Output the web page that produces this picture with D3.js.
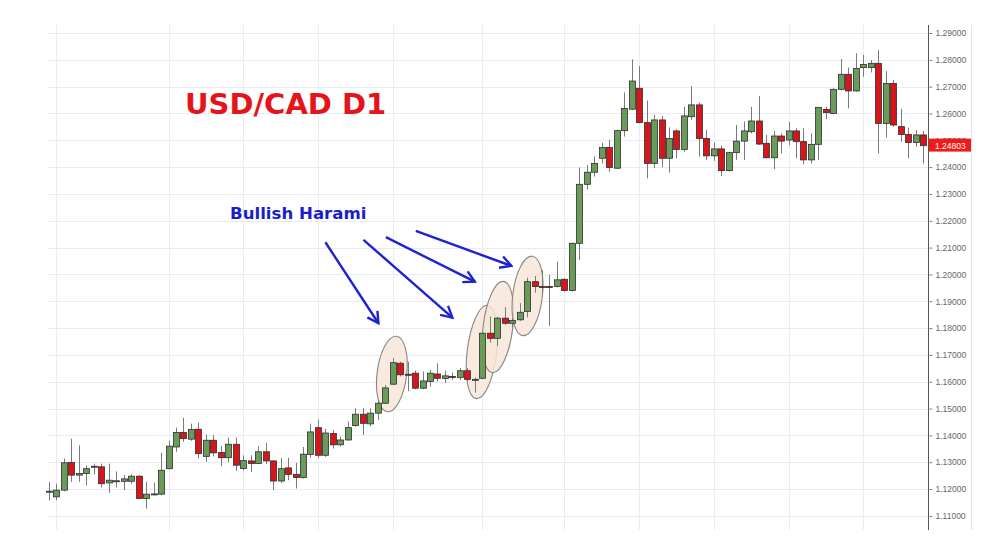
<!DOCTYPE html>
<html><head><meta charset="utf-8">
<script src="https://cdn.jsdelivr.net/npm/d3@7"></script>
<style>html,body{margin:0;padding:0;background:#fff;}svg{display:block;}</style>
</head><body>
<svg id="c" width="1000" height="554"></svg>
<script>
// ---- DATA ----
const opens  = [1.1190,1.1171,1.1196,1.1299,1.1252,1.1258,1.1284,1.1283,1.1223,1.1230,1.1229,1.1229,1.1248,1.1165,1.1181,1.1181,1.1276,1.1357,1.1411,1.1386,1.1423,1.1322,1.1382,1.1336,1.1317,1.1367,1.1277,1.1305,1.1295,1.1339,1.1305,1.1230,1.1279,1.1255,1.1243,1.1329,1.1429,1.1326,1.1407,1.1365,1.1383,1.1437,1.1479,1.1443,1.1483,1.1520,1.1591,1.1669,1.1628,1.1632,1.1576,1.1601,1.1629,1.1612,1.1620,1.1616,1.1641,1.1608,1.1613,1.1781,1.1762,1.1837,1.1818,1.1831,1.1862,1.1973,1.1955,1.1955,1.1955,1.1982,1.1940,1.2116,1.2336,1.2381,1.2433,1.2473,1.2396,1.2536,1.2616,1.2694,1.2566,1.2414,1.2576,1.2433,1.2535,1.2466,1.2588,1.2632,1.2507,1.2442,1.2468,1.2387,1.2454,1.2497,1.2532,1.2572,1.2489,1.2435,1.2516,1.2501,1.2535,1.2495,1.2427,1.2485,1.2615,1.2600,1.2690,1.2746,1.2684,1.2771,1.2771,1.2787,1.2563,1.2712,1.2551,1.2522,1.2492,1.2520];
const highs  = [1.1227,1.1220,1.1314,1.1388,1.1363,1.1289,1.1295,1.1295,1.1295,1.1266,1.1252,1.1255,1.1252,1.1227,1.1223,1.1335,1.1380,1.1429,1.1466,1.1444,1.1448,1.1403,1.1401,1.1360,1.1392,1.1392,1.1326,1.1326,1.1360,1.1372,1.1306,1.1317,1.1317,1.1298,1.1357,1.1444,1.1459,1.1425,1.1419,1.1396,1.1452,1.1501,1.1501,1.1501,1.1532,1.1588,1.1688,1.1675,1.1675,1.1642,1.1638,1.1644,1.1669,1.1642,1.1634,1.1651,1.1651,1.1616,1.1783,1.1843,1.1843,1.1878,1.1837,1.1893,1.1988,1.1994,1.2017,1.1998,1.2048,1.1986,1.2119,1.2399,1.2408,1.2440,1.2491,1.2501,1.2539,1.2679,1.2802,1.2777,1.2648,1.2594,1.2591,1.2548,1.2541,1.2625,1.2702,1.2640,1.2539,1.2491,1.2480,1.2458,1.2557,1.2570,1.2625,1.2665,1.2520,1.2535,1.2526,1.2569,1.2545,1.2545,1.2526,1.2625,1.2625,1.2694,1.2803,1.2771,1.2824,1.2818,1.2799,1.2837,1.2758,1.2725,1.2617,1.2547,1.2538,1.2535];
const lows   = [1.1158,1.1158,1.1192,1.1227,1.1227,1.1214,1.1255,1.1206,1.1186,1.1206,1.1196,1.1220,1.1163,1.1127,1.1177,1.1177,1.1273,1.1339,1.1376,1.1380,1.1314,1.1301,1.1322,1.1285,1.1301,1.1268,1.1270,1.1264,1.1293,1.1293,1.1196,1.1223,1.1233,1.1202,1.1239,1.1317,1.1317,1.1320,1.1351,1.1358,1.1381,1.1433,1.1402,1.1433,1.1458,1.1517,1.1588,1.1620,1.1565,1.1572,1.1572,1.1582,1.1601,1.1595,1.1607,1.1607,1.1601,1.1559,1.1610,1.1746,1.1733,1.1812,1.1803,1.1827,1.1840,1.1932,1.1930,1.1808,1.1952,1.1936,1.1936,1.2054,1.2317,1.2365,1.2414,1.2383,1.2393,1.2514,1.2613,1.2563,1.2358,1.2396,1.2399,1.2380,1.2433,1.2458,1.2576,1.2439,1.2427,1.2424,1.2367,1.2383,1.2427,1.2427,1.2526,1.2483,1.2433,1.2393,1.2451,1.2482,1.2433,1.2410,1.2414,1.2427,1.2579,1.2598,1.2687,1.2619,1.2681,1.2737,1.2753,1.2451,1.2510,1.2551,1.2495,1.2433,1.2476,1.2414];
const closes = [1.1192,1.1196,1.1298,1.1252,1.1258,1.1276,1.1285,1.1220,1.1233,1.1231,1.1238,1.1248,1.1165,1.1181,1.1182,1.1270,1.1360,1.1411,1.1388,1.1422,1.1332,1.1382,1.1335,1.1317,1.1367,1.1289,1.1306,1.1295,1.1339,1.1305,1.1230,1.1276,1.1255,1.1243,1.1330,1.1413,1.1326,1.1409,1.1365,1.1383,1.1429,1.1479,1.1445,1.1483,1.1520,1.1577,1.1671,1.1626,1.1627,1.1576,1.1603,1.1632,1.1613,1.1622,1.1619,1.1641,1.1609,1.1609,1.1781,1.1762,1.1837,1.1818,1.1828,1.1859,1.1973,1.1955,1.1954,1.1954,1.1980,1.1940,1.2116,1.2336,1.2381,1.2414,1.2473,1.2399,1.2536,1.2619,1.2721,1.2566,1.2414,1.2576,1.2433,1.2507,1.2466,1.2591,1.2632,1.2507,1.2442,1.2468,1.2387,1.2454,1.2497,1.2535,1.2572,1.2486,1.2435,1.2516,1.2497,1.2535,1.2495,1.2427,1.2485,1.2622,1.2603,1.2690,1.2746,1.2684,1.2768,1.2783,1.2787,1.2563,1.2712,1.2557,1.2522,1.2492,1.2520,1.2480];
const priceTicks = [1.11,1.12,1.13,1.14,1.15,1.16,1.17,1.18,1.19,1.20,1.21,1.22,1.23,1.24,1.25,1.26,1.27,1.28,1.29];
const gridIdx = [1,16,26,36,46,58,69,79,89,99,109];
const lastPrice = 1.24803;
const title = "USD/CAD D1";
const noteText = "Bullish Harami";
// harami highlights: [candle index, price] of centres
const haramiIdx   = [45.9, 57.96, 60.1, 64.06];
const haramiPrice = [1.1629, 1.1711, 1.1804, 1.1920];
const haramiRy    = [38, 47, 46, 40];
// arrows: start/end in [candle index, price]
const arrowFromIdx = [37.0, 42.1, 45.1, 49.1];
const arrowFromPx  = [1.2120, 1.2129, 1.2139, 1.2162];
const arrowToIdx   = [44.1, 54.0, 57.0, 61.9];
const arrowToPx    = [1.1818, 1.1839, 1.1973, 1.2032];

// ---- LAYOUT ----
const svg = d3.select("#c");
const pL = 47, pR = 928, pT = 25, pB = 530;
const n = opens.length;
const step = 7.47;
const x = d3.scaleBand().domain(d3.range(n)).range([49 - step/2, 49 - step/2 + step*n]).padding(0);
const cx = i => x(i) + x.bandwidth()/2;
const xl = d3.scaleLinear().domain([0, n-1]).range([cx(0), cx(n-1)]);
const y = d3.scaleLinear().domain([1.11, 1.29]).range([515.9, 33]);

const green = "#6a9b59", red = "#d8151b", outline = "#2e2e2e", wick = "#7a7a7a";

// grid
const g = svg.append("g");
g.selectAll("line.h").data(priceTicks).join("line")
  .attr("x1", pL).attr("x2", pR)
  .attr("y1", d => Math.round(y(d)) + 0.5).attr("y2", d => Math.round(y(d)) + 0.5)
  .attr("stroke", "#e9edf1").attr("stroke-width", 1);
g.selectAll("line.v").data(gridIdx).join("line")
  .attr("x1", d => Math.round(cx(d)) + 0.5).attr("x2", d => Math.round(cx(d)) + 0.5)
  .attr("y1", pT).attr("y2", pB)
  .attr("stroke", "#e9edf1").attr("stroke-width", 1);

// right border
svg.append("line").attr("x1", 971.5).attr("x2", 971.5).attr("y1", pT).attr("y2", pB)
  .attr("stroke", "#e2e5e8");

// harami ellipses
svg.append("g").selectAll("ellipse").data(haramiIdx).join("ellipse")
  .attr("transform", (d, i) => `translate(${xl(d)},${y(haramiPrice[i])}) rotate(7)`)
  .attr("rx", 14.8).attr("ry", (d, i) => haramiRy[i])
  .attr("fill", "#f7e6d8").attr("fill-opacity", 0.85)
  .attr("stroke", "#8a8580").attr("stroke-width", 1.1);

// candles
const candles = svg.append("g").selectAll("g").data(d3.range(n)).join("g");
candles.append("line")
  .attr("x1", i => Math.round(cx(i)) + 0.5).attr("x2", i => Math.round(cx(i)) + 0.5)
  .attr("y1", i => y(highs[i])).attr("y2", i => y(lows[i]))
  .attr("stroke", wick).attr("stroke-width", 1);
candles.append("rect")
  .attr("x", i => Math.round(cx(i)) - 2.5)
  .attr("width", 6)
  .attr("y", i => y(Math.max(opens[i], closes[i])))
  .attr("height", i => Math.max(1, Math.abs(y(opens[i]) - y(closes[i]))))
  .attr("fill", i => closes[i] >= opens[i] ? green : red)
  .attr("stroke", outline).attr("stroke-width", 0.8);

// axis
const axisG = svg.append("g").attr("transform", `translate(${pR + 0.5},0)`);
const axis = d3.axisRight(y).tickValues(priceTicks).tickSize(4).tickPadding(3)
  .tickFormat(d3.format(".5f"));
axisG.call(axis);
axisG.select(".domain").attr("d", `M0,${pT}V${pB}`).attr("stroke", "#555");
axisG.selectAll(".tick line").attr("stroke", "#888");
axisG.selectAll(".tick text").attr("fill", "#666")
  .style("font-family", "'Liberation Sans', Arial, sans-serif").style("font-size", "8.5px");

// last price label
const ly = y(lastPrice);
svg.append("rect").attr("x", pR + 1).attr("y", ly - 7).attr("width", 42).attr("height", 13)
  .attr("fill", "#f01a1a");
svg.append("text").attr("x", pR + 7).attr("y", ly + 3)
  .attr("fill", "#fff").style("font-family", "'Liberation Sans', Arial, sans-serif")
  .style("font-size", "8.5px").text(d3.format(".5f")(lastPrice));

// title
svg.append("text").attr("x", 185).attr("y", 114).text(title)
  .attr("fill", "#e5141a").style("font-family", "'DejaVu Sans', Verdana, sans-serif")
  .style("font-weight", "bold").style("font-size", "29px");
svg.append("text").attr("x", 230).attr("y", 219).text(noteText)
  .attr("fill", "#1b1dcc").style("font-family", "'DejaVu Sans', Verdana, sans-serif")
  .style("font-weight", "bold").style("font-size", "16.6px");

// arrows
const defs = svg.append("defs");
defs.append("marker").attr("id", "ah").attr("markerUnits", "userSpaceOnUse")
  .attr("viewBox", "-12 -8 14 16").attr("refX", 0).attr("refY", 0)
  .attr("markerWidth", 14).attr("markerHeight", 16).attr("orient", "auto")
  .append("path").attr("d", "M-11,-6 L0,0 L-11,6").attr("fill", "none")
  .attr("stroke", "#1f22d0").attr("stroke-width", 2.4).attr("stroke-linejoin", "miter");
svg.append("g").selectAll("line").data(arrowFromIdx).join("line")
  .attr("x1", d => xl(d)).attr("y1", (d, i) => y(arrowFromPx[i]))
  .attr("x2", (d, i) => xl(arrowToIdx[i])).attr("y2", (d, i) => y(arrowToPx[i]))
  .attr("stroke", "#1f22d0").attr("stroke-width", 2.4).attr("marker-end", "url(#ah)");
</script>
</body></html>
